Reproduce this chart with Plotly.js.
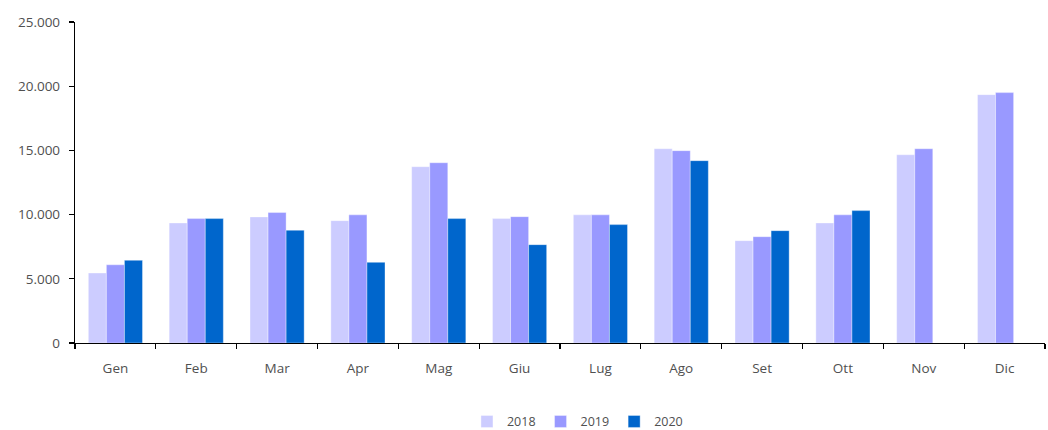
<!DOCTYPE html>
<html>
<head>
<meta charset="utf-8">
<script src="https://cdn.plot.ly/plotly-3.0.1.min.js"></script>
<style>html,body{margin:0;padding:0;background:#fff;}#chart{width:1048px;height:430px;}</style>
</head>
<body>
<div id="chart"></div>
<script>
const months = ["Gen","Feb","Mar","Apr","Mag","Giu","Lug","Ago","Set","Ott","Nov","Dic"];
const v2018 = [5450, 9350, 9820, 9530, 13730, 9690, 9980, 15130, 7970, 9350, 14660, 19340];
const v2019 = [6090, 9690, 10160, 9980, 14040, 9840, 9980, 14980, 8280, 9980, 15130, 19500];
const v2020 = [6440, 9690, 8780, 6280, 9690, 7660, 9220, 14200, 8750, 10310, null, null];
const yTicks = [0, 5000, 10000, 15000, 20000, 25000];

const font = {family: "Open Sans, Noto Sans, sans-serif", size: 13.5, color: "#505050"};
const mk = (name, y, color) => ({
  type: "bar", name: name, x: months, y: y,
  marker: {color: color, line: {color: "rgba(255,255,255,0.6)", width: 0.6}},
  hoverinfo: "skip"
});
const data = [
  mk("2018", v2018, "#CCCCFF"),
  mk("2019", v2019, "#9999FF"),
  mk("2020", v2020, "#0066CC")
];
const layout = {
  width: 1048, height: 430,
  margin: {l: 75, r: 3, t: 22, b: 87, autoexpand: false},
  paper_bgcolor: "#fff", plot_bgcolor: "#fff",
  font: font,
  separators: ",.",
  barmode: "group",
  bargap: 0.33, bargroupgap: 0,
  showlegend: true,
  legend: {orientation: "h", x: 0.551, xref: "container", xanchor: "center",
           y: 0.019, yref: "container", yanchor: "middle",
           font: {family: font.family, size: 12.5, color: "#505050"},
           itemwidth: 30, traceorder: "normal"},
  xaxis: {
    type: "category", showline: true, linecolor: "#000", linewidth: 1.2,
    ticks: "outside", tickson: "boundaries", ticklen: 5, tickcolor: "#000", tickwidth: 1.2,
    showgrid: false, zeroline: false, tickfont: font, ticklabelstandoff: 13
  },
  yaxis: {
    range: [0, 25000], tickvals: yTicks, tickformat: ",d",
    showline: true, linecolor: "#000", linewidth: 1.2,
    ticks: "outside", ticklen: 5, tickcolor: "#000", tickwidth: 1.2,
    showgrid: false, zeroline: false, tickfont: font, ticklabelstandoff: 6
  }
};
Plotly.newPlot("chart", data, layout, {displayModeBar: false, staticPlot: true});
</script>
</body>
</html>
